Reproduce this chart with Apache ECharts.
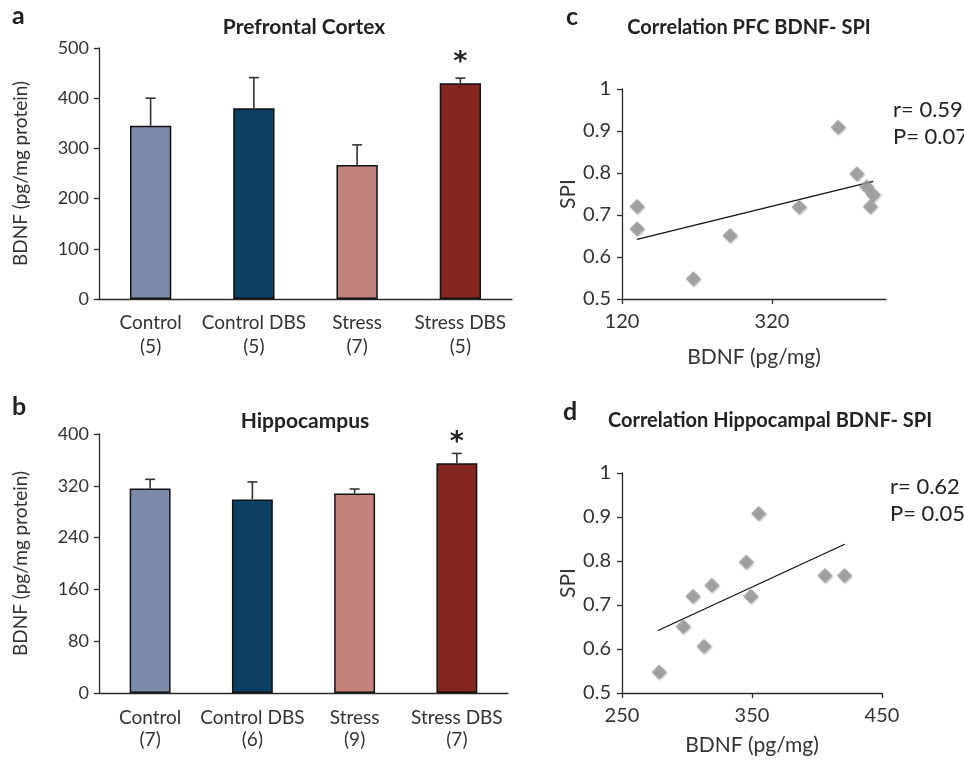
<!DOCTYPE html>
<html>
<head>
<meta charset="utf-8">
<script src="https://cdn.jsdelivr.net/npm/echarts@6/dist/echarts.min.js"></script>
<style>
html,body{margin:0;padding:0;background:#fff;}
#c{width:964px;height:761px;}
</style>
</head>
<body>
<div id="c"></div>
<script>
// ---- data ----
const groups = ['Control', 'Control DBS', 'Stress', 'Stress DBS'];
const pfcN = ['(5)', '(5)', '(7)', '(5)'];
const hipN = ['(7)', '(6)', '(9)', '(7)'];
const pfcMean = [345, 380, 267, 430];
const pfcErr = [55, 61, 40, 10];
const hipMean = [316, 299, 308, 355];
const hipErr = [14, 27, 7, 15];
const sig = ['', '', '', '*'];
const barColors = ['#7b8aa8', '#0b3f63', '#c3837a', '#83261f'];

const pfcTicks = [0, 100, 200, 300, 400, 500];
const hipTicks = [0, 80, 160, 240, 320, 400];

const pfcBdnf = [140, 140, 215, 264, 356, 408, 433, 446, 455, 451];
const pfcSpi = [0.72, 0.667, 0.548, 0.651, 0.719, 0.909, 0.798, 0.767, 0.748, 0.72];
const pfcTrendX = [140, 455];
const pfcTrendY = [0.642, 0.780];
const pfcXTicks = [120, 320];

const hipBdnf = [278.5, 297, 304.5, 313, 319, 345.5, 349, 355, 406, 421];
const hipSpi = [0.548, 0.651, 0.72, 0.606, 0.745, 0.798, 0.72, 0.908, 0.767, 0.767];
const hipTrendX = [277.7, 421.3];
const hipTrendY = [0.642, 0.838];
const hipXTicks = [250, 350, 450];

const spiTicks = [0.5, 0.6, 0.7, 0.8, 0.9, 1];

// ---- chart ----
const FONT = 'Lato';
const TXT = '#333';
const AX = '#2a2a2a';

function barXAxis(gi, nArr, lh, mg) {
  return {
    type: 'category', gridIndex: gi, data: groups.map((g, i) => g + '\n' + nArr[i]),
    axisLine: { lineStyle: { color: AX, width: 1.3 } },
    axisTick: { length: 5, lineStyle: { color: AX, width: 1.3 } },
    axisLabel: { interval: 0, color: TXT, fontFamily: FONT, fontSize: 19, lineHeight: lh, margin: mg }
  };
}
function barYAxis(gi, ticks) {
  return {
    type: 'value', gridIndex: gi, min: ticks[0], max: ticks[ticks.length - 1],
    interval: ticks[1] - ticks[0],
    name: 'BDNF (pg/mg protein)', nameLocation: 'middle', nameGap: 69, nameRotate: 90,
    nameTextStyle: { color: TXT, fontFamily: FONT, fontSize: 19 },
    splitLine: { show: false },
    axisLine: { show: true, lineStyle: { color: AX, width: 1.3 } },
    axisTick: { show: true, length: 5, lineStyle: { color: AX, width: 1.3 } },
    axisLabel: { color: TXT, fontFamily: FONT, fontSize: 18, margin: 10 }
  };
}
function scXAxis(gi, ticks, max, gap) {
  return {
    type: 'value', gridIndex: gi, min: ticks[0], max: max,
    interval: ticks[1] - ticks[0],
    name: 'BDNF (pg/mg)', nameLocation: 'middle', nameGap: gap,
    nameTextStyle: { color: TXT, fontFamily: FONT, fontSize: 21 },
    splitLine: { show: false },
    axisLine: { lineStyle: { color: AX, width: 1.3 } },
    axisTick: { show: true, length: 5, customValues: ticks, lineStyle: { color: AX, width: 1.3 } },
    axisLabel: { color: TXT, fontFamily: FONT, fontSize: 20, margin: 13, customValues: ticks }
  };
}
function scYAxis(gi) {
  return {
    type: 'value', gridIndex: gi, min: spiTicks[0], max: spiTicks[spiTicks.length - 1], interval: 0.1,
    name: 'SPI', nameLocation: 'middle', nameGap: 29, nameRotate: 90,
    nameTextStyle: { color: TXT, fontFamily: FONT, fontSize: 21 },
    splitLine: { show: false },
    axisLine: { show: true, lineStyle: { color: AX, width: 1.3 } },
    axisTick: { show: true, length: 5, lineStyle: { color: AX, width: 1.3 } },
    axisLabel: { color: TXT, fontFamily: FONT, fontSize: 20, margin: 11 }
  };
}
function barSeries(gi, means) {
  return {
    type: 'bar', xAxisIndex: gi, yAxisIndex: gi, barWidth: '40%',
    data: means.map((v, i) => ({ value: v, itemStyle: { color: barColors[i] } })),
    itemStyle: { borderColor: '#111', borderWidth: 1.5 },
    z: 2
  };
}
function errSeries(gi, means, errs, starGap) {
  return {
    type: 'custom', xAxisIndex: gi, yAxisIndex: gi, z: 3,
    data: means.map((v, i) => [i, v, v + errs[i]]),
    renderItem: function (params, api) {
      const i = api.value(0);
      const p0 = api.coord([i, api.value(1)]);
      const p1 = api.coord([i, api.value(2)]);
      const ch = [
        { type: 'line', shape: { x1: p0[0], y1: p0[1], x2: p1[0], y2: p1[1] }, style: { stroke: '#333', lineWidth: 1.6 } },
        { type: 'line', shape: { x1: p1[0] - 5, y1: p1[1], x2: p1[0] + 5, y2: p1[1] }, style: { stroke: '#333', lineWidth: 1.6 } }
      ];
      if (sig[i]) {
        ch.push({ type: 'text', style: { text: sig[i], x: p1[0], y: p1[1] - starGap, align: 'center', verticalAlign: 'middle',
          font: 'bold 27px "DejaVu Sans"', fill: '#222' } });
      }
      return { type: 'group', children: ch };
    }
  };
}
function scSeries(gi, xs, ys) {
  return {
    type: 'scatter', xAxisIndex: gi, yAxisIndex: gi, symbol: 'diamond', symbolSize: [15, 15],
    data: xs.map((x, i) => [x, ys[i]]),
    itemStyle: { color: '#999', shadowColor: 'rgba(0,0,0,0.35)', shadowBlur: 2, shadowOffsetX: 1, shadowOffsetY: 1 },
    z: 3
  };
}
function trendSeries(gi, xs, ys) {
  return {
    type: 'line', xAxisIndex: gi, yAxisIndex: gi, symbol: 'none', silent: true,
    data: xs.map((x, i) => [x, ys[i]]),
    lineStyle: { color: '#111', width: 1.3 }, z: 2
  };
}
function txt(x, y, s, font, align) {
  return { type: 'text', x: x, y: y, style: { text: s, font: font, fill: '#222', align: align || 'left', verticalAlign: 'middle' } };
}

const chart = echarts.init(document.getElementById('c'), null, { renderer: 'canvas' });
chart.setOption({
  backgroundColor: '#fff',
  animation: false,
  grid: [
    { left: 99, top: 48, width: 413, height: 251 },
    { left: 99, top: 434, width: 409, height: 259 },
    { left: 622, top: 89, width: 264, height: 210 },
    { left: 622, top: 473, width: 260, height: 220 }
  ],
  xAxis: [barXAxis(0, pfcN, 24, 12), barXAxis(1, hipN, 22, 14), scXAxis(2, pfcXTicks, 472, 48), scXAxis(3, hipXTicks, 450, 42)],
  yAxis: [barYAxis(0, pfcTicks), barYAxis(1, hipTicks), scYAxis(2), scYAxis(3)],
  series: [
    barSeries(0, pfcMean), errSeries(0, pfcMean, pfcErr, 15),
    barSeries(1, hipMean), errSeries(1, hipMean, hipErr, 10),
    scSeries(2, pfcBdnf, pfcSpi), trendSeries(2, pfcTrendX, pfcTrendY),
    scSeries(3, hipBdnf, hipSpi), trendSeries(3, hipTrendX, hipTrendY)
  ],
  graphic: [
    txt(12, 16, 'a', 'bold 25px ' + FONT),
    txt(12, 407, 'b', 'bold 25px ' + FONT),
    txt(566, 17, 'c', 'bold 25px ' + FONT),
    txt(563, 412, 'd', 'bold 25px ' + FONT),
    txt(304, 27, 'Prefrontal Cortex', 'bold 21px ' + FONT, 'center'),
    txt(305, 421, 'Hippocampus', 'bold 21px ' + FONT, 'center'),
    txt(749, 28, 'Correlation PFC BDNF- SPI', 'bold 20px ' + FONT, 'center'),
    txt(770, 421, 'Correlation Hippocampal BDNF- SPI', 'bold 20px ' + FONT, 'center'),
    txt(893, 110, 'r= 0.59', '22px ' + FONT),
    txt(893, 137, 'P= 0.07', '22px ' + FONT),
    txt(890, 487, 'r= 0.62', '22px ' + FONT),
    txt(890, 514, 'P= 0.05', '22px ' + FONT)
  ]
});
</script>
</body>
</html>
